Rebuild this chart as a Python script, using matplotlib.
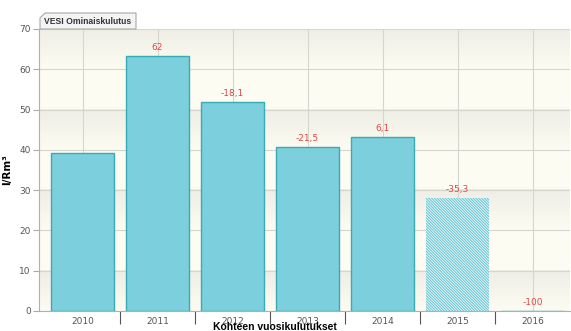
import numpy as np
import matplotlib.pyplot as plt
from matplotlib.colors import LinearSegmentedColormap
from matplotlib.patches import Polygon

years = ['2010', '2011', '2012', '2013', '2014', '2015', '2016']
values = [39.1, 63.3, 51.8, 40.7, 43.2, 28.0, 0.0]
changes = ['', '62', '-18,1', '-21,5', '6,1', '-35,3', '-100']
estimated = [False, False, False, False, False, True, False]

W, H = 571, 331
fig = plt.figure(figsize=(W / 100, H / 100), dpi=100)
fig.patch.set_facecolor('white')
ax = fig.add_axes([39 / W, 20 / H, 531 / W, 282 / H])
ax.set_facecolor('#fdfcf2')

x = np.arange(len(years))
ax.set_xlim(-0.58, 6.5)
ax.set_ylim(0, 70)

# alternating bands, darker just under the upper grid line
band_cmap = LinearSegmentedColormap.from_list('band', ['#fdfcf2', '#efeee6'])
grad = np.linspace(0, 1, 64).reshape(-1, 1)
for lo in range(0, 70, 20):
    ax.imshow(grad, extent=(-0.58, 6.5, lo, lo + 10), aspect='auto',
              cmap=band_cmap, origin='lower', zorder=0)

ax.grid(True, color='#d6d6ce', linewidth=0.8, zorder=1)
ax.set_axisbelow(True)

plt.rcParams['hatch.color'] = '#6fc6d4'
plt.rcParams['hatch.linewidth'] = 0.8
for xi, v, est in zip(x, values, estimated):
    if est:
        ax.bar(xi, v, width=0.84, color='#eef9fa', edgecolor='#6fc6d4',
               hatch='\\' * 12, linewidth=0, zorder=2)
    else:
        ax.bar(xi, v, width=0.84, color='#7ccfdc', edgecolor='#3aaab5',
               linewidth=1.0, zorder=2)

for xi, v, c in zip(x, values, changes):
    if c:
        ax.annotate(c, (xi, v), xytext=(0, 3), textcoords='offset points',
                    ha='center', va='bottom', fontsize=6.5, color='#e04848')

ax.set_yticks(range(0, 71, 10))
ax.set_xticks(x)
ax.set_xticklabels(years)
ax.set_xticks(x[:-1] + 0.5, minor=True)
ax.tick_params(axis='x', which='major', length=0, pad=4, labelsize=6.5,
               labelcolor='#555555')
ax.tick_params(axis='x', which='minor', length=9, width=0.8, color='#555555',
               direction='out')
ax.tick_params(axis='y', length=4, width=0.8, color='#aaaaaa', labelsize=6.5,
               labelcolor='#555555', pad=2)

for side in ['top', 'right']:
    ax.spines[side].set_visible(False)
for side in ['left', 'bottom']:
    ax.spines[side].set_color('#b0b0b0')

ax.set_ylabel('l/Rm³', fontsize=7.5, fontweight='bold')
ax.yaxis.set_label_coords((12 - 39) / 531, 0.5)
fig.text(275 / W, 1 - 326.5 / H, 'Kohteen vuosikulutukset', fontsize=7.5,
         family='Liberation Sans', fontweight='bold', ha='center',
         va='center')

# title tab above the plot area
tab = Polygon([(40, H - 29), (40, H - 18), (45, H - 13), (136, H - 13),
               (136, H - 29)],
              closed=True, transform=None, facecolor='#f4f4f4',
              edgecolor='#a8a8a8', linewidth=0.8)
fig.patches.append(tab)
fig.text(44 / W, 1 - 21 / H, 'VESI Ominaiskulutus', fontsize=6.2,
         family='Liberation Sans', fontweight='bold', color='#333333',
         va='center', ha='left')

fig.savefig('out.png', dpi=100)
